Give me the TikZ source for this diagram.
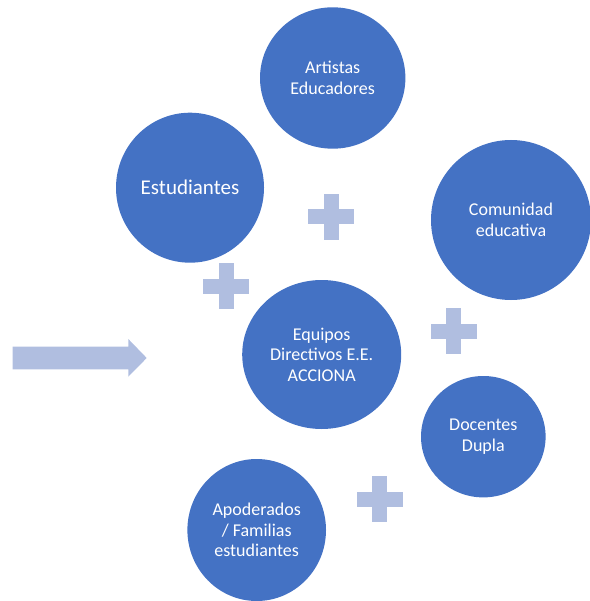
\documentclass[tikz,border=0pt]{standalone}
\usepackage{fontspec}
\setmainfont{Carlito}
\usetikzlibrary{shapes.geometric}
\definecolor{circblue}{RGB}{68,114,196}
\definecolor{pluslight}{RGB}{176,190,224}
\begin{document}
\begin{tikzpicture}[x=1pt,y=-1pt,
  bubble/.style={ellipse, fill=circblue, draw=none, inner sep=0pt, text=white, align=center, font=\fontsize{18}{20.5}\selectfont},
  plussign/.pic={\fill[pluslight] (-23,-7.5) rectangle (23,7.5); \fill[pluslight] (-7.5,-23) rectangle (7.5,23);},
  arrowfill/.style={fill=pluslight}
]
\useasboundingbox (0,0) rectangle (589,601);
\node[bubble, minimum width=145.4pt, minimum height=141.4pt] (artistas) at (332.7,78) {Artistas\\Educadores};
\node[bubble, minimum width=148pt, minimum height=150pt, font=\fontsize{21}{25}\selectfont] (estudiantes) at (190,187.7) {Estudiantes};
\node[bubble, minimum width=160pt, minimum height=160pt] (comunidad) at (511,220) {Comunidad\\educativa};
\node[bubble, minimum width=159pt, minimum height=149pt] (equipos) at (321.7,354.5) {Equipos\\Directivos E.E.\\ACCIONA};
\node[bubble, minimum width=124.6pt, minimum height=121.4pt] (docentes) at (483.3,436.7) {Docentes\\Dupla};
\node[bubble, minimum width=138.6pt, minimum height=142pt] (apoderados) at (256.7,530) {Apoderados\\/ Familias\\estudiantes};
\pic at (331,217) {plussign};
\pic at (226,286) {plussign};
\pic at (453.8,331) {plussign};
\pic at (379.7,499.3) {plussign};
\fill[arrowfill] (12.7,346.7) -- (128.3,346.7) -- (128.3,339) -- (146.7,358) -- (128.3,376.7) -- (128.3,369.3) -- (12.7,369.3) -- cycle;
\end{tikzpicture}
\end{document}
